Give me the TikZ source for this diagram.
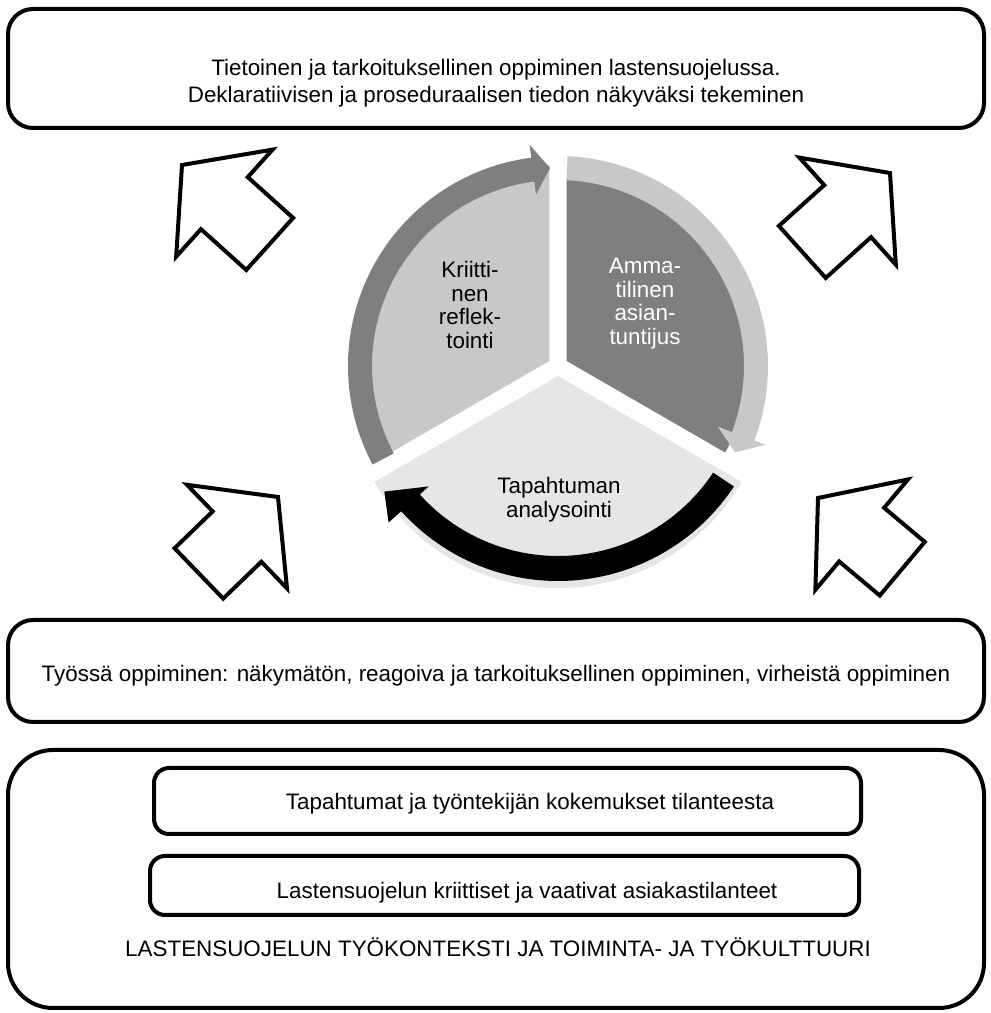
\documentclass[tikz,border=0pt]{standalone}
\usepackage{fontspec}
\setmainfont{Liberation Sans}
\usetikzlibrary{calc}
\definecolor{segdark}{RGB}{127,127,127}
\definecolor{seglight}{RGB}{200,200,200}
\definecolor{segpale}{RGB}{230,230,230}
\begin{document}
\begin{tikzpicture}[x=1pt,y=1pt,
  panel/.style={draw=black, line width=4pt, rounded corners=25pt, fill=white, inner sep=0pt},
  txt/.style={font=\fontsize{22.4}{27}\selectfont, align=center, inner sep=0pt},
  segtxt/.style={font=\fontsize{22.4}{23.5}\selectfont, align=center, inner sep=0pt},
  blockarrow/.style={draw=black, line width=4pt, fill=white, line join=miter}]
\useasboundingbox (0,0) rectangle (991,1013);

% frames
\node[panel, minimum width=976pt, minimum height=119pt] (topbox) at (496,944.5) {};
\node[panel, minimum width=976pt, minimum height=102pt] (workbox) at (496,342) {};
\node[panel, rounded corners=45pt, minimum width=976pt, minimum height=258pt] (contextbox) at (496,134) {};
\node[panel, rounded corners=15pt, minimum width=707pt, minimum height=66pt] (eventbox) at (507.5,212) {};
\node[panel, rounded corners=15pt, minimum width=709pt, minimum height=59pt] (casebox) at (504.5,127.5) {};

\node[txt] (toptext) at (496,929.5) {Tietoinen ja tarkoituksellinen oppiminen lastensuojelussa.\\Deklaratiivisen ja proseduraalisen tiedon näkyväksi tekeminen};
\node[txt] (worktext) at (496,337) {Työssä oppiminen: näkymätön, reagoiva ja tarkoituksellinen oppiminen, virheistä oppiminen};
\node[txt] (eventtext) at (530,209) {Tapahtumat ja työntekijän kokemukset tilanteesta};
\node[txt] (casetext) at (527,120) {Lastensuojelun kriittiset ja vaativat asiakastilanteet};
\node[txt] (contexttext) at (498,66) {LASTENSUOJELUN TYÖKONTEKSTI JA TOIMINTA- JA TYÖKULTTUURI};

% cycle: three segments with curved arrows
\begin{scope}[shift={(558,647)}]
  \fill[seglight] (150:10) -- ++(210:196) arc[start angle=210, end angle=90, radius=196] -- cycle;
  \fill[segdark] (30:10) -- ++(90:183) arc[start angle=90, end angle=-30, radius=183] -- cycle;
  \fill[segpale] (270:10) -- ++(210:212) arc[start angle=210, end angle=330, radius=212] -- cycle;
  \fill[segdark] (208:210) arc[start angle=208, end angle=97.3, radius=210]
     -- (97.3:223) -- (92.3:198) -- (97.3:173) -- (97.3:186)
     arc[start angle=97.3, end angle=208, radius=186] -- cycle;
  \fill[seglight] (87.4:210) arc[start angle=87.4, end angle=-20.8, radius=210]
     -- (-20.8:222) -- (-26:197) -- (-20.8:171) -- (-20.8:186)
     arc[start angle=-20.8, end angle=87.4, radius=186] -- cycle;
  \begin{scope}[shift={(0,-4)}]
    \fill[black] (-33.5:211) arc[start angle=-33.5, end angle=-138, radius=211]
       -- (-138:228) -- (-145:212) -- (-138:174) -- (-138:186)
       arc[start angle=-138, end angle=-33.5, radius=186] -- cycle;
  \end{scope}
\end{scope}

\node[segtxt] (reflect) at (470,708) {Kriitti-\\nen\\reflek-\\tointi};
\node[segtxt, text=white] (expert) at (645,709.5) {Amma-\\tilinen\\asian-\\tuntijus};
\node[segtxt] (analysis) at (559,513.5) {Tapahtuman\\analysointi};

% hollow block arrows
\draw[blockarrow, shift={(182,848)}, rotate=138] (0,0) -- (-57,72) -- (-57,35) -- (-118,35) -- (-118,-35) -- (-57,-35) -- (-57,-72) -- cycle;
\draw[blockarrow, shift={(890,840)}, rotate=42] (0,0) -- (-57,72) -- (-57,35) -- (-118,35) -- (-118,-35) -- (-57,-35) -- (-57,-72) -- cycle;
\draw[blockarrow, shift={(278,516)}, rotate=44] (0,0) -- (-57,72) -- (-57,35) -- (-110,35) -- (-110,-35) -- (-57,-35) -- (-57,-72) -- cycle;
\draw[blockarrow, shift={(818,515)}, rotate=140] (0,0) -- (-57,72) -- (-57,35) -- (-110,35) -- (-110,-35) -- (-57,-35) -- (-57,-72) -- cycle;
\end{tikzpicture}
\end{document}
